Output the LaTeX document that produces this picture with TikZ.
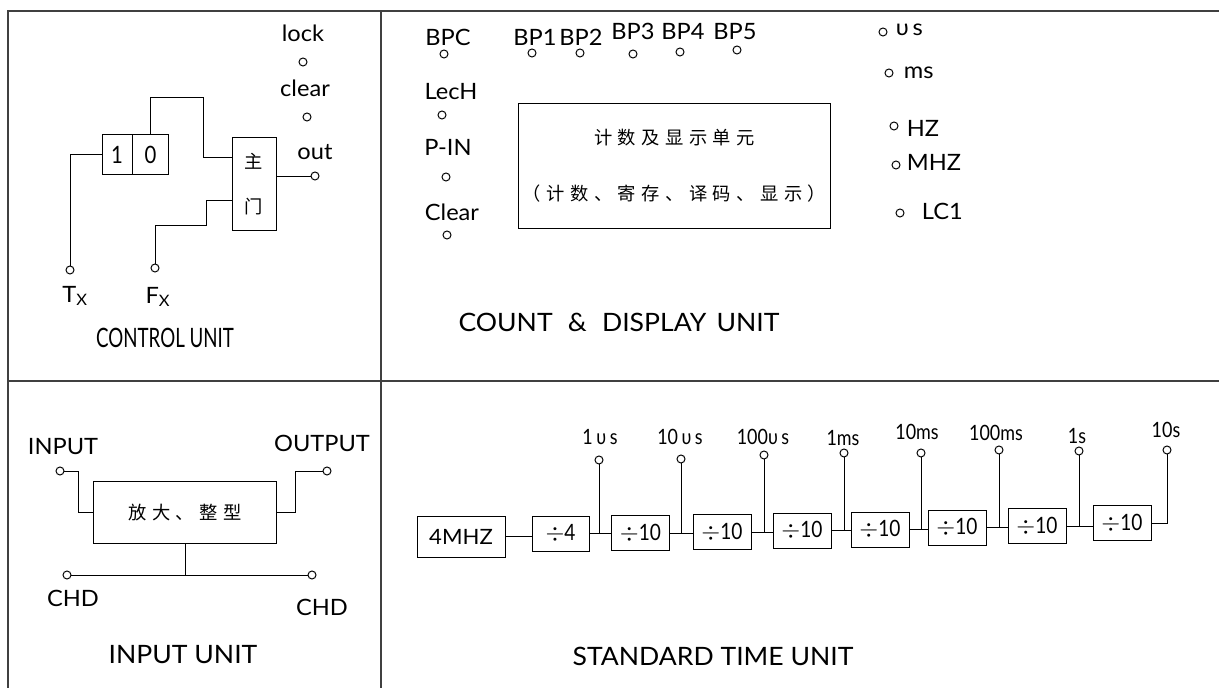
\documentclass[tikz,border=0pt]{standalone}
\usepackage{fontspec}
\setmainfont{Lato}[FakeStretch=0.85]
\newfontfamily\widefont{Lato}[FakeStretch=1.05]
\newfontfamily\narrowfont{Lato}[FakeStretch=0.7]
\newfontfamily\cjk{Noto Sans CJK SC}
\newfontfamily\cjkwide[LetterSpace=30]{Noto Sans CJK SC}
\usetikzlibrary{positioning}

\begin{document}
\begin{tikzpicture}[
  x=0.025cm, y=-0.025cm,
  line width=0.7pt,
  frame/.style={line width=1pt, black!75},
  box/.style={draw, inner sep=0pt, minimum width=1.45cm, minimum height=0.875cm,
              font=\fontsize{16}{19}\selectfont},
  term/.style={draw, circle, inner sep=0pt, minimum size=2mm},
  lab/.style={font=\widefont\fontsize{16}{19}\selectfont, inner sep=1pt},
  tlab/.style={font=\fontsize{15}{18}\selectfont, inner sep=1pt},
  unitname/.style={font=\widefont\fontsize{18}{21}\selectfont}
]
\useasboundingbox (0,0) rectangle (1219,688);
% panel frame
\draw[frame] (8,688) -- (8,11) -- (1219,11);
\draw[frame] (381,11) -- (381,688);
\draw[frame] (8,381) -- (1219,381);

% control unit
\node[box, minimum width=0.75cm, minimum height=0.975cm, font=\fontsize{17}{20}\selectfont]
  (one) at (117,154.5) {1};
\node[box, minimum width=0.875cm, minimum height=0.975cm, anchor=west,
      font=\fontsize{17}{20}\selectfont] (zero) at (one.east) {0};
\node[box, minimum width=1.1cm, minimum height=2.3cm, align=center,
      font=\cjk\fontsize{13}{15}\selectfont] (gate) at (254,184) {主\\[17pt]门};
\node[lab] (lockl) at (303,33) {lock};
\node[term] (lock) at (303,62) {};
\node[lab] (clearl) at (305,88) {clear};
\node[term] (clear) at (307,117) {};
\node[lab] (outl) at (315,152) {out};
\node[term] (out) at (315,176) {};
\node[term] (tx) at (70,270) {};
\node[term] (fx) at (155,268) {};
\node[lab] (txl) at (75,296) {T\textsubscript{X}};
\node[lab] (fxl) at (158,297) {F\textsubscript{X}};
\node[font=\narrowfont\fontsize{19}{22}\selectfont] (cu) at (165,338) {CONTROL UNIT};
\draw (gate.east |- out) -- (out);
\draw (one.west) -| (tx);
\draw (zero.north) |- (203,97) |- (gate.west |- 0,157);
\draw (fx) |- (206,225) |- (gate.west |- 0,200);

% count & display unit
\node[lab] (bpcl) at (448,37) {BPC};
\node[term] (bpc) at (444,54) {};
\node[lab] (bp1l) at (535,37) {BP1};
\node[term] (bp1) at (532,53) {};
\node[lab] (bp2l) at (581,37) {BP2};
\node[term] (bp2) at (580,53) {};
\node[lab] (bp3l) at (633,31) {BP3};
\node[term] (bp3) at (633,54) {};
\node[lab] (bp4l) at (683,31) {BP4};
\node[term] (bp4) at (680,52) {};
\node[lab] (bp5l) at (735,32) {BP5};
\node[term] (bp5) at (737,50) {};
\node[lab] (lechl) at (451,92) {LecH};
\node[term] (lech) at (442,115) {};
\node[lab] (pinl) at (448,147) {P-IN};
\node[term] (pin) at (446,177) {};
\node[lab] (clrl) at (452,212) {Clear};
\node[term] (clr) at (447,235) {};
\node[draw, minimum width=7.675cm, minimum height=3.1cm, align=center,
      font=\cjkwide\fontsize{13}{15}\selectfont] (disp) at (674.5,166)
  {计数及显示单元\\[25pt]（计数、寄存、译码、显示）};
\node[term] (us) at (883,32) {};
\node[lab, anchor=west] (usl) at (894,30) {υ\,s};
\node[term] (ms) at (889,73) {};
\node[lab, anchor=west] (msl) at (902,73) {ms};
\node[term] (hz) at (894,126) {};
\node[lab, anchor=west] (hzl) at (905,128) {HZ};
\node[term] (mhz) at (896,165) {};
\node[lab, anchor=west] (mhzl) at (905,162) {MHZ};
\node[term] (lc) at (900,213) {};
\node[lab, anchor=west] (lcl) at (920,211) {LC1};
\node[unitname] (cd) at (619,322) {COUNT\hspace{0.6em}\&\hspace{0.6em}DISPLAY\hspace{0.4em}UNIT};

% input unit
\node[draw, minimum width=4.55cm, minimum height=1.525cm,
      font=\cjkwide\fontsize{13}{15}\selectfont] (amp) at (185,512.5) {放大、整型};
\node[lab] (inpl) at (63,447) {INPUT};
\node[term] (inp) at (60,471) {};
\node[lab] (outpl) at (322,443) {OUTPUT};
\node[term] (outp) at (327,471) {};
\node[term] (gnda) at (67,575) {};
\node[term] (gndb) at (312,575) {};
\node[lab] (gndal) at (73,598) {CHD};
\node[lab] (gndbl) at (322,607) {CHD};
\node[unitname] (iu) at (183,655) {INPUT UNIT};
\draw (inp) -- (inp -| 78,0) |- (amp.west);
\draw (amp.east) -- ++(19,0) |- (outp);
\draw (gnda) -- (gndb);
\draw (amp.south) -- (amp.south |- gnda);

% standard time unit
\node[box, minimum width=2.2cm, minimum height=1.025cm, font=\widefont\fontsize{15}{18}\selectfont]
  (osc) at (461,536.5) {4MHZ};
\node[box, minimum width=1.425cm] (d4) at (560.5,533.5) {$\div$4};
\node[box] (da) at (640.5,533) {$\div$10};
\node[box] (db) at (722,532) {$\div$10};
\node[box] (dc) at (802,530.5) {$\div$10};
\node[box] (dd) at (880,529.5) {$\div$10};
\node[box] (de) at (957,527.5) {$\div$10};
\node[box] (df) at (1037,526) {$\div$10};
\node[box] (dg) at (1122,523) {$\div$10};
\node[term] (t1) at (599,460) {};
\node[term] (t2) at (681,459) {};
\node[term] (t3) at (764,455) {};
\node[term] (t4) at (844,453) {};
\node[term] (t5) at (921,453) {};
\node[term] (t6) at (999,450) {};
\node[term] (t7) at (1079,451) {};
\node[term] (t8) at (1167,450) {};
\node[tlab] (t1l) at (600,437) {1\,υ\,s};
\node[tlab] (t2l) at (680,437) {10\,υ\,s};
\node[tlab] (t3l) at (763,437) {100υ\,s};
\node[tlab] (t4l) at (843,438) {1ms};
\node[tlab] (t5l) at (917,432) {10ms};
\node[tlab] (t6l) at (996,433) {100ms};
\node[tlab] (t7l) at (1077,436) {1s};
\node[tlab] (t8l) at (1166,430) {10s};
\node[unitname] (su) at (713,656) {STANDARD TIME UNIT};
\draw (osc.east) -- (osc.east -| d4.west);
\draw (d4.east) -- (d4.east -| da.west);
\draw (da.east) -- (da.east -| db.west);
\draw (db.east) -- (db.east -| dc.west);
\draw (dc.east) -- (dc.east -| dd.west);
\draw (dd.east) -- (dd.east -| de.west);
\draw (de.east) -- (de.east -| df.west);
\draw (df.east) -- (df.east -| dg.west);
\draw (dg.east) -| (t8);
\draw (t1) -- (t1 |- d4.east);
\draw (t2) -- (t2 |- da.east);
\draw (t3) -- (t3 |- db.east);
\draw (t4) -- (t4 |- dc.east);
\draw (t5) -- (t5 |- dd.east);
\draw (t6) -- (t6 |- de.east);
\draw (t7) -- (t7 |- df.east);
\end{tikzpicture}
\end{document}
